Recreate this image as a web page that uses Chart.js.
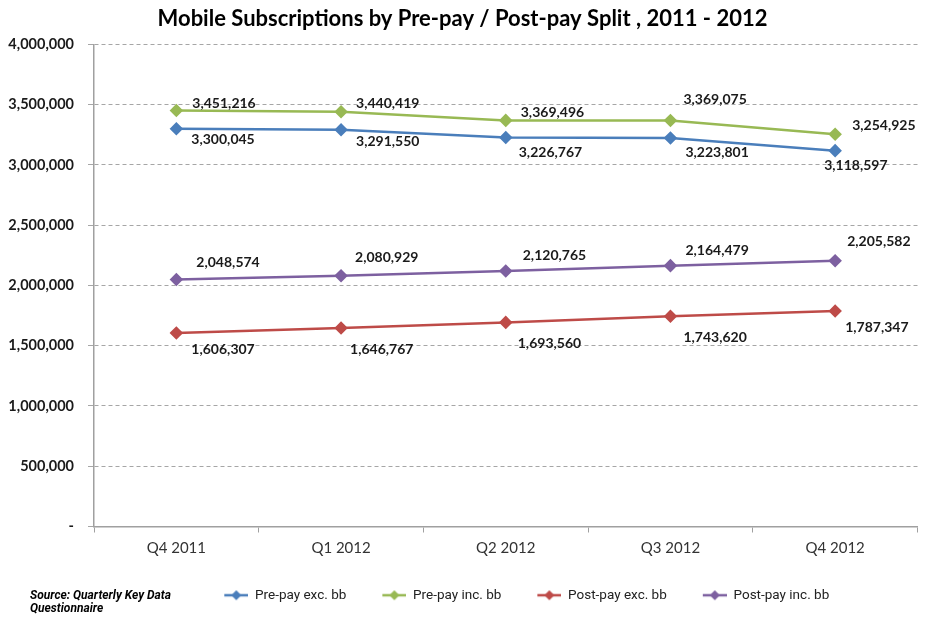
<!DOCTYPE html>
<html>
<head>
<meta charset="utf-8">
<script src="https://cdn.jsdelivr.net/npm/chart.js@4.4.1/dist/chart.umd.min.js"></script>
<style>
  html, body { margin: 0; padding: 0; background: #fff; }
  canvas { display: block; }
</style>
</head>
<body>
<canvas id="myChart" width="925" height="617"></canvas>
<script>
// chart data
var quarters = ["Q4 2011", "Q1 2012", "Q2 2012", "Q3 2012", "Q4 2012"];
var prepayExc = [3300045, 3291550, 3226767, 3223801, 3118597];
var prepayInc = [3451216, 3440419, 3369496, 3369075, 3254925];
var postpayExc = [1606307, 1646767, 1693560, 1743620, 1787347];
var postpayInc = [2048574, 2080929, 2120765, 2164479, 2205582];
var yTicks = [0, 500000, 1000000, 1500000, 2000000, 2500000, 3000000, 3500000, 4000000];

function fmt(v) {
  return v.toLocaleString('en-US');
}

// line+diamond image for the legend, with blank room on the left as item gap
function legendMark(color) {
  var c = document.createElement('canvas');
  c.width = 46; c.height = 12;
  var g = c.getContext('2d');
  g.strokeStyle = color; g.lineWidth = 2.5;
  g.beginPath(); g.moveTo(22, 6); g.lineTo(46, 6); g.stroke();
  g.fillStyle = color;
  g.beginPath(); g.moveTo(34, 1); g.lineTo(39, 6); g.lineTo(34, 11); g.lineTo(29, 6); g.closePath(); g.fill();
  return c;
}

function series(label, data, color, offs) {
  return {
    label: label,
    data: data,
    borderColor: color,
    backgroundColor: color,
    borderWidth: 2.5,
    pointStyle: 'rectRot',
    pointRadius: 5,
    pointHoverRadius: 5,
    tension: 0,
    mark: legendMark(color),
    labelOffsets: offs
  };
}

// value labels next to each point
var valueLabels = {
  id: 'valueLabels',
  afterDatasetsDraw: function(chart) {
    var ctx = chart.ctx;
    ctx.save();
    ctx.font = 'bold 14px Lato';
    ctx.fillStyle = '#1a1a1a';
    ctx.textAlign = 'left';
    ctx.textBaseline = 'middle';
    chart.data.datasets.forEach(function(ds, i) {
      chart.getDatasetMeta(i).data.forEach(function(pt, j) {
        var o = ds.labelOffsets[j];
        ctx.fillText(fmt(ds.data[j]), pt.x + o[0], pt.y + o[1]);
      });
    });
    ctx.restore();
  }
};

var sourceNote = {
  id: 'sourceNote',
  afterLayout: function(chart) {
    chart.legend.left += 10;
    chart.legend.right += 10;
    chart.legend.top -= 3;
    chart.legend.bottom -= 3;
  },
  afterDraw: function(chart) {
    var ctx = chart.ctx;
    ctx.save();
    ctx.font = 'italic bold 12px Roboto';
    ctx.fillStyle = '#000';
    ctx.textBaseline = 'middle';
    ctx.fillText('Source: Quarterly Key Data', 30, 596);
    ctx.fillText('Questionnaire', 30, 609);
    ctx.restore();
  }
};

var ctx = document.getElementById('myChart').getContext('2d');
var chart = new Chart(ctx, {
  type: 'line',
  data: {
    labels: quarters,
    datasets: [
      series('Pre-pay exc. bb', prepayExc, '#4a7ebb', [[15, 11], [15, 12], [13, 15], [15, 15], [-11, 15]]),
      series('Pre-pay inc. bb', prepayInc, '#98b954', [[16, -7], [15, -8], [15, -8], [13, -21], [17, -9]]),
      series('Post-pay exc. bb', postpayExc, '#be4b48', [[15, 17], [9, 21], [12, 21], [13, 21], [10, 16]]),
      series('Post-pay inc. bb', postpayInc, '#7d60a0', [[20, -17], [14, -18], [17, -15], [15, -15], [12, -19]])
    ]
  },
  options: {
    responsive: false,
    animation: false,
    layout: { padding: { left: 0, right: 0, top: 0, bottom: 2 } },
    plugins: {
      title: {
        display: true,
        text: 'Mobile Subscriptions by Pre-pay / Post-pay Split , 2011 - 2012',
        color: '#000',
        font: { family: 'Lato', size: 22, weight: 'bold' },
        padding: { top: 6, bottom: 12 }
      },
      legend: {
        position: 'bottom',
        fullSize: false,
        labels: {
          color: '#222',
          font: { family: 'Roboto', size: 13.5 },
          usePointStyle: true,
          pointStyleWidth: 46,
          padding: 14,
          generateLabels: function(chart) {
            var items = Chart.defaults.plugins.legend.labels.generateLabels(chart);
            items.forEach(function(it) {
              it.pointStyle = chart.data.datasets[it.datasetIndex].mark;
            });
            return items;
          }
        }
      },
      tooltip: { enabled: false }
    },
    scales: {
      x: {
        offset: true,
        afterFit: function(axis) { axis.height = 51; },
        border: { color: '#a0a0a0', width: 1.5 },
        grid: { offset: true, drawOnChartArea: false, drawTicks: true, tickLength: 6, color: '#a0a0a0' },
        ticks: { color: '#333', font: { family: 'Lato', size: 15 }, padding: 7 }
      },
      y: {
        min: 0,
        max: 4000000,
        afterFit: function(axis) { axis.width = 94; },
        afterBuildTicks: function(axis) {
          axis.ticks = yTicks.map(function(v) { return { value: v }; });
        },
        border: { color: '#a0a0a0', width: 1.5, dash: [4, 3] },
        grid: { color: '#a6a6a6', tickLength: 6, lineWidth: 1 },
        ticks: {
          color: '#1a1a1a',
          font: { family: 'Lato', size: 14.5, weight: 'bold' },
          padding: 14,
          callback: function(v) { return v === 0 ? '-' : fmt(v); }
        }
      }
    }
  },
  plugins: [valueLabels, sourceNote]
});
</script>
</body>
</html>
